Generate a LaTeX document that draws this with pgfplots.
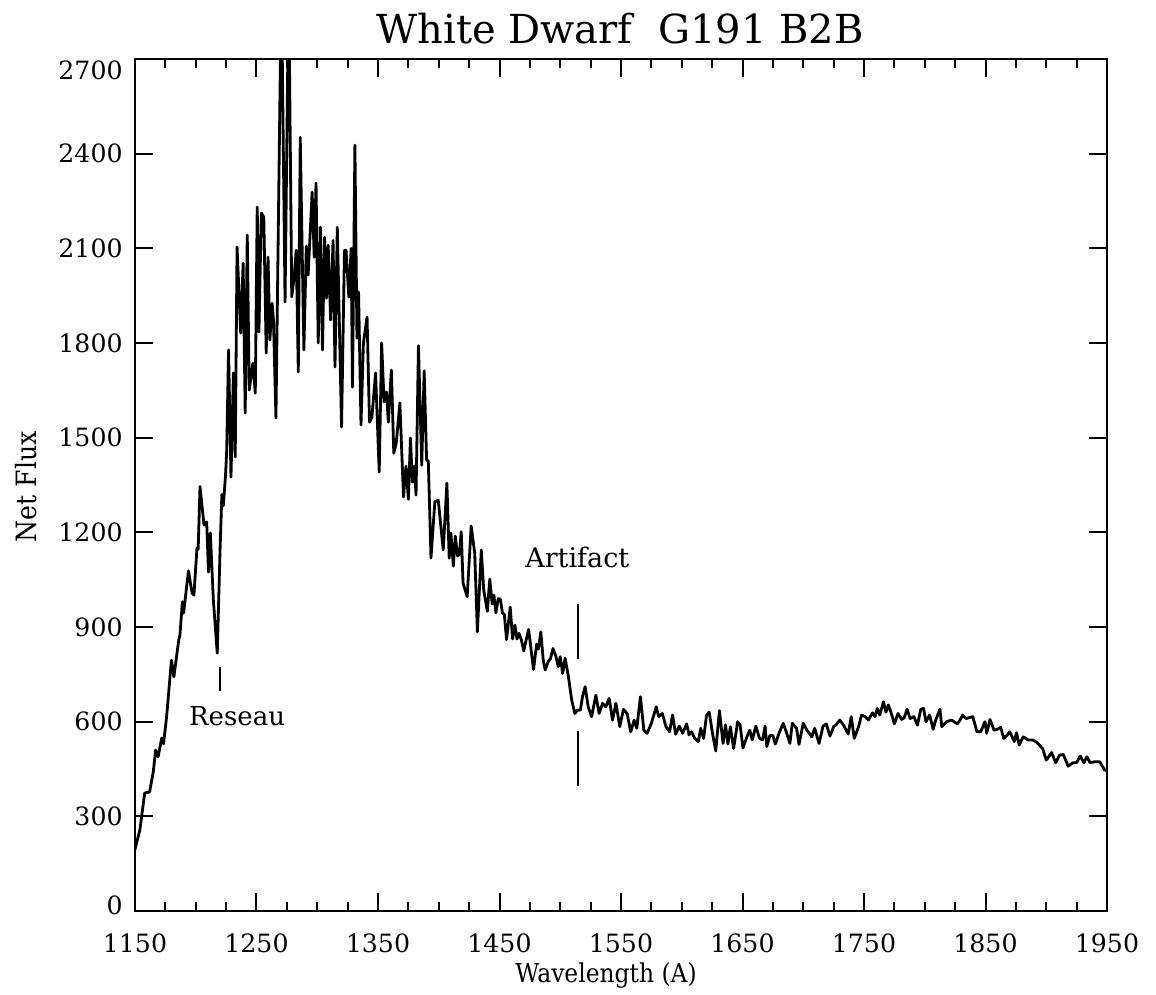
\documentclass[border=0pt]{standalone}
\usepackage{fontspec}
\setmainfont{DejaVu Serif}
\newfontfamily\condfont[FakeStretch=0.9]{DejaVu Serif}
\usepackage{pgfplots}
\pgfplotsset{compat=1.18}
\usetikzlibrary{calc}
\pgfplotstableread{
x y
1150 195
1154 257
1158 374
1162 377
1165 440
1167 510
1169 488
1172 548
1173.5 530
1176 615
1180 795
1182 742
1186 859
1187 875
1189 980
1190 944
1194 1078
1197 1007
1198.5 1001
1201 1150
1202 1146
1203.5 1345
1206.8 1223
1209 1233
1210.5 1074
1212 1198
1214.5 985
1217.7 817
1220 1144
1221.5 1320
1222.7 1285
1224.5 1380
1225.5 1461
1227 1778
1229 1375
1231 1705
1232.5 1439
1234 2104
1237 1831
1239 2053
1240.7 1578
1242.4 2142
1244 1651
1247 1736
1249 1641
1250.6 2231
1252 1835
1254 2212
1256 2199
1258 1768
1259.5 2072
1261 1809
1262.9 1926
1264 1870
1266 1562
1270.5 2950
1273.5 1930
1276.5 2950
1279 1946
1281 2010
1282.7 2094
1284.4 1708
1286 2452
1289 1778
1291 2107
1292.5 2015
1295.8 2278
1297.5 2072
1299 2307
1300.8 1800
1302.6 2167
1304.3 1778
1306 2135
1307.6 1942
1309 2110
1311 1873
1313 2125
1314.6 1724
1316.5 2167
1320 1534
1322.4 2094
1323.7 2094
1326 1946
1327.9 2100
1329 1660
1331 2427
1332.7 1815
1334 1962
1336 1540
1338 1800
1341 1882
1343 1549
1345 1565
1348 1705
1351 1391
1353 1800
1355 1613
1357 1645
1358.5 1549
1361 1714
1363 1451
1365 1483
1368 1610
1371 1312
1373 1410
1375 1305
1376.7 1499
1378.3 1359
1380 1410
1381.3 1318
1383.3 1791
1386 1413
1388 1712
1390 1429
1391.4 1426
1393.6 1119
1396.8 1297
1399.6 1302
1403.7 1144
1406.7 1356
1408.6 1118
1410 1198
1412 1093
1413.6 1188
1415.5 1125
1417 1131
1418.5 1202
1420 1039
1423.4 996
1426.7 1220
1429.6 1134
1431.8 885
1435 1144
1437 1017
1440 950
1442 1052
1444 973
1445.4 1001
1447 945
1449 990
1450.7 988
1452.5 943
1454 940
1455.8 860
1458.8 963
1460.8 862
1462.7 906
1464.4 862
1466 880
1468 859
1470 824
1472 860
1474 892
1476.4 816
1478 765
1480.6 846
1482 830
1484 885
1486 795
1487.6 764
1490 789
1492 800
1494 832
1496.5 806
1498.4 774
1500 806
1502 753
1504 801
1506.7 743
1509.4 669
1512 626
1514 636
1516.6 637
1518.3 679
1520.5 711
1523 647
1525.8 616
1529.3 684
1532 626
1534.8 658
1537.5 647
1540.3 674
1543 605
1545.8 658
1549 584
1552 639
1555 626
1558 568
1560.8 605
1563 579
1566 679
1568.8 573
1571.5 563
1575 595
1579 647
1581 616
1584 626
1587 584
1590 568
1592.4 621
1595 560
1598 586
1600.8 563
1604 593
1606 558
1608 568
1610.7 547
1613.7 537
1615.6 579
1618 547
1620.4 621
1622.6 630
1625.3 563
1628 507
1631 635
1634 531
1636 590
1638 529
1640 584
1642.7 515
1646 600
1648 590
1650.4 517
1653.6 552
1656 573
1658 542
1661 586
1664 547
1666.5 542
1668.6 586
1670 521
1672.5 556
1675 556
1677 529
1680 563
1683.5 595
1686 568
1689 531
1691 595
1694.5 579
1696.5 528
1700 595
1703 573
1705 563
1707 552
1709.4 579
1713 531
1716.3 586
1719 593
1722 554
1725 584
1727 590
1730 605
1733 590
1737 561
1739.5 616
1742 547
1745.7 586
1748 621
1751 616
1753.6 605
1757 628
1759 616
1761 642
1763 621
1766 663
1768 630
1770 653
1772 632
1775 593
1778 626
1781 607
1783 612
1785.5 639
1788 610
1791 616
1794 589
1796.7 639
1799 642
1801 600
1804 621
1806.9 576
1809 605
1812.5 639
1814 584
1818 600
1822 605
1826.9 593
1829 605
1831.3 621
1834 610
1836 612
1839.5 616
1843 568
1846 568
1849.6 600
1851 563
1853.7 607
1857 573
1860 576
1862.5 582
1865 547
1868 558
1870 568
1873.7 537
1875.5 565
1877.8 526
1881 552
1885 542
1888.8 542
1892 535
1897 515
1900 478
1904.4 502
1907.8 470
1911 494
1914 496
1918 459
1922 470
1925 470
1928 491
1931 470
1933.5 489
1936 470
1940 473
1944 473
1948 447
1950 445
}\spectrum
\begin{document}
\begin{tikzpicture}
\begin{axis}[
  name=ax, at={(0,0)}, anchor=south west,
  scale only axis, width=486pt, height=426pt,
  xmin=1150, xmax=1950, ymin=0, ymax=2700,
  xtick={1150,1250,...,1950}, minor x tick num=3,
  ytick={0,300,...,2700},
  yticklabels={,300,600,900,1200,1500,1800,2100,2400,},
  tick align=inside, xtick pos=both, ytick pos=both,
  major tick length=9pt, minor tick length=4.5pt,
  every tick/.style={black, line width=1pt},
  axis line style={line width=1pt},
  /pgf/number format/1000 sep={},
  /pgf/number format/assume math mode=true,
  tick label style={font=\fontsize{12.6}{14}\selectfont},
  xticklabel style={anchor=north, inner sep=0pt, yshift=-11pt},
  yticklabel style={anchor=east, inner sep=0pt, xshift=-6pt},
]
\addplot[black, line width=1.4pt, line join=round] table[x=x, y=y] {\spectrum};
\addplot[black, line width=1pt] coordinates {(1220,773) (1220,697)};
\addplot[black, line width=1pt] coordinates {(1514.6,973) (1514.6,798)};
\addplot[black, line width=1pt] coordinates {(1514.6,570) (1514.6,396)};
\node[font=\fontsize{13}{15}\selectfont] at (axis cs:1234,618) {Reseau};
\node[font=\fontsize{13.5}{15}\selectfont] at (axis cs:1514,1122) {Artifact};
\end{axis}
\node[anchor=east, inner sep=0pt, font=\fontsize{12.6}{14}\selectfont] at ($(ax.south west)+(-6pt,3pt)$) {0};
\node[anchor=east, inner sep=0pt, font=\fontsize{12.6}{14}\selectfont] at ($(ax.north west)+(-6pt,-5.75pt)$) {2700};
\node[anchor=base, inner sep=0pt, font=\fontsize{20}{24}\selectfont] at ($(ax.north west)+(242.5pt,7.5pt)$) {White Dwarf\ \ G191 B2B};
\node[anchor=base, inner sep=0pt, font=\condfont\fontsize{13}{15}\selectfont] at ($(ax.south west)+(235.5pt,-36pt)$) {Wavelength (A)};
\node[anchor=base, rotate=90, inner sep=0pt, font=\condfont\fontsize{14}{16}\selectfont] at ($(ax.south west)+(-49pt,212pt)$) {Net Flux};
\path ($(ax.south west)+(-67.5pt,-42pt)$) rectangle ($(ax.north east)+(24.5pt,29.5pt)$);
\end{tikzpicture}
\end{document}
